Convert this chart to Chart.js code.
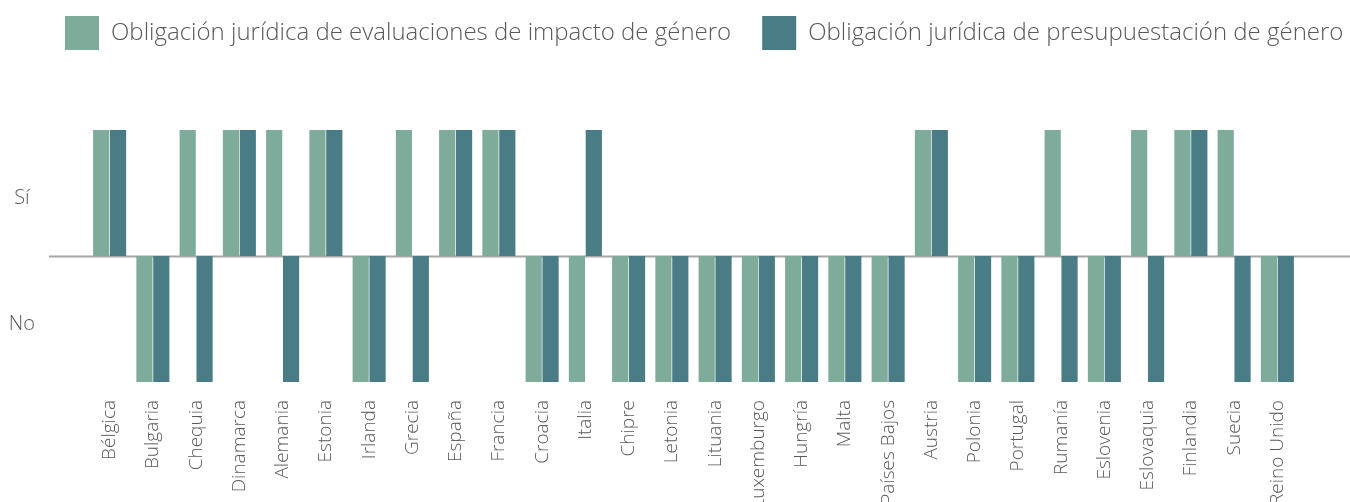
<!DOCTYPE html>
<html>
<head>
<meta charset="utf-8">
<script src="https://cdn.jsdelivr.net/npm/chart.js@4.4.1/dist/chart.umd.min.js"></script>
<style>
  html, body { margin: 0; padding: 0; background: #fff; }
  #wrap { width: 1350px; height: 502px; }
</style>
</head>
<body>
<div id="wrap"><canvas id="genero-chart"></canvas></div>
<script>
// Countries
var paises = ["Bélgica", "Bulgaria", "Chequia", "Dinamarca", "Alemania", "Estonia", "Irlanda", "Grecia", "España", "Francia",
    "Croacia", "Italia", "Chipre", "Letonia", "Lituania", "Luxemburgo", "Hungría", "Malta", "Países Bajos", "Austria",
    "Polonia", "Portugal", "Rumanía", "Eslovenia", "Eslovaquia", "Finlandia", "Suecia", "Reino Unido"];

// 1 = Sí, -1 = No
var evaluaciones = [1, -1, 1, 1, 1, 1, -1, 1, 1, 1, -1, -1, -1, -1, -1, -1, -1, -1, -1, 1, -1, -1, 1, -1, 1, 1, 1, -1];
var presupuestacion = [1, -1, -1, 1, -1, 1, -1, -1, 1, 1, -1, 1, -1, -1, -1, -1, -1, -1, -1, 1, -1, -1, -1, -1, -1, 1, -1, -1];

// Y tick labels
var tickValores = [0.5, -0.5];
var tickTextos = ["Sí", "No"];

var fuente = "'Open Sans', 'Noto Sans', sans-serif";

// Zero line across full width
var lineaCero = {
    id: "lineaCero",
    beforeDatasetsDraw: function (chart) {
        var ctx = chart.ctx;
        var y = Math.round(chart.scales.y.getPixelForValue(0)) + 0.5;
        ctx.save();
        ctx.strokeStyle = "#a6a6a6";
        ctx.lineWidth = 2;
        ctx.beginPath();
        ctx.moveTo(49, y);
        ctx.lineTo(chart.width, y);
        ctx.stroke();
        ctx.restore();
    }
};

// Extra space under legend, and legend position
var legendaEspacio = {
    id: "legendaEspacio",
    beforeInit: function (chart) {
        var fitOrig = chart.legend.fit;
        chart.legend.fit = function () {
            fitOrig.bind(chart.legend)();
            this.height += 55;
        };
    },
    afterLayout: function (chart) {
        var lg = chart.legend;
        lg.left += 34;
        lg.right += 34;
        lg.top -= 15;
        lg.bottom -= 15;
    }
};

var ctx = document.getElementById("genero-chart").getContext("2d");
var myChart = new Chart(ctx, {
    type: "bar",
    data: {
        labels: paises,
        datasets: [{
                label: "Obligación jurídica de evaluaciones de impacto de género",
                data: evaluaciones,
                backgroundColor: "#7fab9b"
            },
            {
                label: "Obligación jurídica de presupuestación de género",
                data: presupuestacion,
                backgroundColor: "#4a7c86"
            }
        ]
    },
    options: {
        responsive: true,
        maintainAspectRatio: false,
        animation: false,
        layout: {
            padding: { top: 0, left: 0, right: 0, bottom: 0 }
        },
        datasets: {
            bar: {
                categoryPercentage: 0.78,
                barPercentage: 0.96
            }
        },
        plugins: {
            legend: {
                position: "top",
                align: "start",
                labels: {
                    boxWidth: 34,
                    boxHeight: 34,
                    padding: 31,
                    color: "#595959",
                    font: { family: fuente, size: 24, weight: "300" }
                }
            },
            tooltip: { enabled: false }
        },
        scales: {
            x: {
                grid: { display: false, drawTicks: false },
                border: { display: false },
                ticks: {
                    autoSkip: false,
                    minRotation: 90,
                    maxRotation: 90,
                    padding: 18,
                    color: "#595959",
                    font: { family: fuente, size: 19, weight: "300" }
                },
                afterFit: function (scale) {
                    scale.height = 120;
                }
            },
            y: {
                min: -1,
                max: 1,
                grid: { display: false, drawTicks: false },
                border: { display: false },
                afterBuildTicks: function (scale) {
                    scale.ticks = tickValores.map(function (v) { return { value: v }; });
                },
                ticks: {
                    crossAlign: "center",
                    padding: 53,
                    labelOffset: 5,
                    color: "#595959",
                    font: { family: fuente, size: 20, weight: "300" },
                    callback: function (value) {
                        return tickTextos[tickValores.indexOf(value)];
                    }
                },
                afterFit: function (scale) {
                    scale.width = 88;
                }
            },
            // empty right margin
            derecha: {
                type: "linear",
                position: "right",
                grid: { display: false, drawTicks: false },
                border: { display: false },
                ticks: { display: false },
                afterFit: function (scale) {
                    scale.width = 51;
                }
            }
        }
    },
    plugins: [lineaCero, legendaEspacio]
});
</script>
</body>
</html>
